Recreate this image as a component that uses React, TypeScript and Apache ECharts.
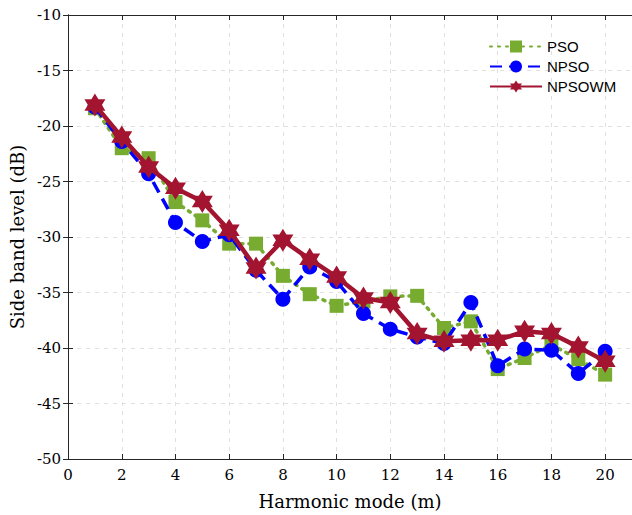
import React, { useEffect, useRef } from "react";
import * as echarts from "echarts";

const modes = [1, 2, 3, 4, 5, 6, 7, 8, 9, 10, 11, 12, 13, 14, 15, 16, 17, 18, 19, 20];
const psoValues = [-18.4, -22.0, -22.9, -26.85, -28.5, -30.6, -30.6, -33.5, -35.15, -36.2, -35.8, -35.35, -35.3, -38.2, -37.6, -41.9, -40.9, -39.7, -41.0, -42.4];
const npsoValues = [-18.3, -21.4, -24.3, -28.7, -30.4, -29.8, -33.0, -35.6, -32.7, -34.0, -36.9, -38.3, -39.0, -39.6, -35.9, -41.6, -40.1, -40.2, -42.3, -40.3];
const npsowmValues = [-18.1, -21.0, -23.7, -25.6, -26.8, -29.4, -32.8, -30.3, -32.0, -33.6, -35.5, -35.9, -38.7, -39.4, -39.3, -39.3, -38.5, -38.7, -39.9, -41.2];
const seriesNames = ["PSO", "NPSO", "NPSOWM"];

const HEXAGRAM =
  "path://M100 0 L128.9 50 L186.6 50 L157.7 100 L186.6 150 L128.9 150 L100 200 L71.1 150 L13.4 150 L42.3 100 L13.4 50 L71.1 50 Z";

const pairs = (vals: number[]) => modes.map((m, i) => [m, vals[i]]);

export default function App() {
  const ref = useRef<HTMLDivElement>(null);
  useEffect(() => {
    if (!ref.current) return;
    const chart = echarts.init(ref.current, null, { renderer: "svg" });
    const serif = "DejaVu Serif";
    const axisColor = "#262626";
    const gridLine = { show: true, lineStyle: { color: "#e0e0e0", type: [4, 5] as any, width: 1 } };
    chart.setOption({
      animation: false,
      backgroundColor: "#ffffff",
      grid: { left: 66.5, right: -1.7, top: 15, bottom: 55, containLabel: false },
      legend: {
        orient: "vertical",
        left: 484,
        top: 34,
        itemWidth: 52,
        itemHeight: 15,
        itemGap: 5,
        data: seriesNames,
        textStyle: { fontFamily: "Liberation Sans", fontSize: 15, color: "#000" },
      },
      xAxis: [
        {
          type: "value",
          min: 0,
          max: 21,
          interval: 2,
          name: "Harmonic mode (m)",
          nameLocation: "middle",
          nameGap: 33,
          nameTextStyle: { fontFamily: serif, fontSize: 18, color: "#000" },
          axisLine: { show: true, lineStyle: { color: axisColor, width: 1 } },
          axisTick: { show: true, inside: true, length: 5, lineStyle: { color: axisColor } },
          axisLabel: { fontFamily: serif, fontSize: 15, color: "#000", margin: 8, showMaxLabel: false },
          splitLine: gridLine,
        },
        {
          type: "value",
          position: "top",
          min: 0,
          max: 21,
          interval: 2,
          axisLine: { show: true, lineStyle: { color: axisColor, width: 1 } },
          axisTick: { show: true, inside: true, length: 5, lineStyle: { color: axisColor } },
          axisLabel: { show: false },
          splitLine: { show: false },
        },
      ],
      yAxis: [
        {
          type: "value",
          min: -50,
          max: -10,
          interval: 5,
          name: "Side band level (dB)",
          nameLocation: "middle",
          nameGap: 41,
          nameTextStyle: { fontFamily: serif, fontSize: 18, color: "#000" },
          axisLine: { show: true, lineStyle: { color: axisColor, width: 1 } },
          axisTick: { show: true, inside: true, length: 5, lineStyle: { color: axisColor } },
          axisLabel: { fontFamily: serif, fontSize: 15, color: "#000", margin: 7 },
          splitLine: gridLine,
        },
        {
          type: "value",
          position: "right",
          min: -50,
          max: -10,
          interval: 5,
          axisLine: { show: true, lineStyle: { color: axisColor, width: 1 } },
          axisTick: { show: true, inside: true, length: 5, lineStyle: { color: axisColor } },
          axisLabel: { show: false },
          splitLine: { show: false },
        },
      ],
      series: [
        {
          name: seriesNames[0],
          type: "line",
          data: pairs(psoValues),
          symbol: "rect",
          symbolSize: 14,
          itemStyle: { color: "#77AC30" },
          lineStyle: { color: "#77AC30", width: 3.5, type: [2, 6] as any, cap: "round" },
          z: 2,
        },
        {
          name: seriesNames[1],
          type: "line",
          data: pairs(npsoValues),
          symbol: "circle",
          symbolSize: 15,
          itemStyle: { color: "#0000FF" },
          lineStyle: { color: "#0000FF", width: 3.5, type: [12, 7] as any },
          z: 3,
        },
        {
          name: seriesNames[2],
          type: "line",
          data: pairs(npsowmValues),
          symbol: HEXAGRAM,
          symbolSize: [21, 23],
          itemStyle: { color: "#A2142F" },
          lineStyle: { color: "#A2142F", width: 4.5 },
          z: 4,
        },
      ],
    });
    return () => chart.dispose();
  }, []);
  return <div ref={ref} style={{ width: 632, height: 515, position: "absolute", left: 0, top: 0 }} />;
}
